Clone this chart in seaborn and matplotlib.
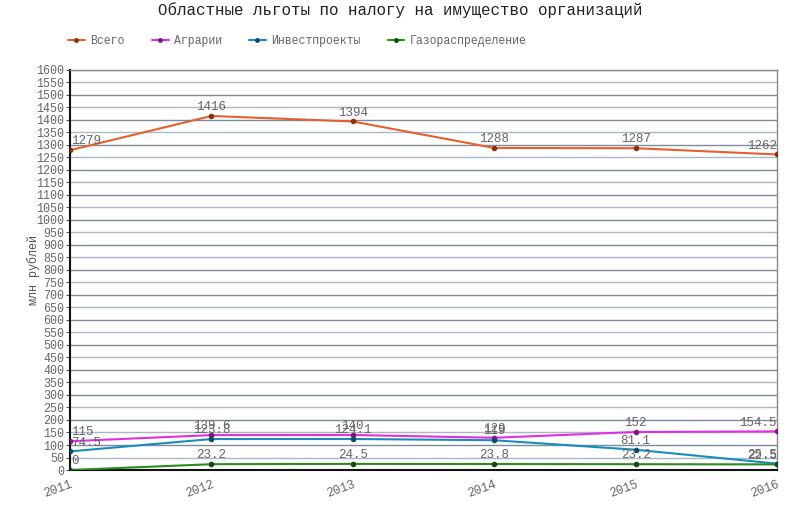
import matplotlib
matplotlib.use("Agg")
import matplotlib.pyplot as plt
import seaborn as sns
import pandas as pd
import numpy as np
from matplotlib.lines import Line2D

years = [2011, 2012, 2013, 2014, 2015, 2016]
series_names = ["Всего", "Аграрии", "Инвестпроекты", "Газораспределение"]
vsego = [1279, 1416, 1394, 1288, 1287, 1262]
agrarii = [115, 139.6, 140, 129, 152, 154.5]
invest = [74.5, 123.8, 124.1, 119, 81.1, 25.5]
gaz = [0, 23.2, 24.5, 23.8, 23.2, 22.5]
colors = ["#e5602e", "#e22ee2", "#1a8cbc", "#2a8a1e"]
edge_colors = ["#8a3010", "#7a1a7a", "#104a66", "#144a0e"]
title = "Областные льготы по налогу на имущество организаций"
ylabel = "млн рублей"

sns.set_theme(style="white")
plt.rcParams['font.family'] = ['Liberation Mono', 'DejaVu Sans Mono']

rows = []
for name, vals in zip(series_names, [vsego, agrarii, invest, gaz]):
    for y, v in zip(years, vals):
        rows.append({"year": y, "value": v, "series": name})
df = pd.DataFrame(rows)

fig = plt.figure(figsize=(8, 5.3), dpi=100)
ax = fig.add_axes([0.0875, 0.1132, 0.8838, 0.7548])

# gridlines
for v in range(50, 1601, 50):
    ax.axhline(v, color="#7d8b9a" if v % 100 == 0 else "#a9b7c7", lw=1.0, zorder=0)

sns.lineplot(data=df, x="year", y="value", hue="series", hue_order=series_names,
             palette=colors, marker="o", markersize=3.2, linewidth=1.5,
             markeredgewidth=0.8, ax=ax, legend=False, zorder=3)
for line, ec in zip(ax.lines[-4:], edge_colors):
    line.set_markeredgecolor(ec)
    line.set_markerfacecolor(ec)

for name, vals in zip(series_names, [vsego, agrarii, invest, gaz]):
    for i, (y, v) in enumerate(zip(years, vals)):
        lbl = f"{v:g}"
        if i == 0:
            ha, dx = "left", 1
        elif i == len(years) - 1:
            ha, dx = "right", 0
        else:
            ha, dx = "center", 0
        ax.annotate(lbl, (y, v), xytext=(dx, 2), textcoords="offset points",
                    ha=ha, va="bottom", fontsize=9, color="#666666", zorder=5,
                    annotation_clip=False)

ax.set_xlim(2011, 2016)
ax.set_ylim(0, 1600)
ax.set_yticks(range(0, 1601, 50))
ax.set_xticks(years)
ax.set_xticklabels([str(y) for y in years], rotation=20, ha="right",
                   rotation_mode="anchor")
ax.tick_params(axis="y", which="major", length=3, width=0.8, color="#555555",
               labelsize=8.4, labelcolor="#666666", pad=1, left=True)
ax.tick_params(axis="x", length=0, labelsize=8.8, labelcolor="#666666", pad=6)
ax.set_xlabel("")
ax.set_ylabel(ylabel, fontsize=8.5, color="#555555")
ax.yaxis.set_label_coords(-0.043, 0.5)

for side in ["top", "right"]:
    ax.spines[side].set_color("#888888")
    ax.spines[side].set_linewidth(1.0)
for side in ["left", "bottom"]:
    ax.spines[side].set_color("#111111")
    ax.spines[side].set_linewidth(1.5)
ax.set_facecolor("white")

fig.text(0.5, 0.981, title, ha="center", va="center", fontsize=11.4, color="#222222")

handles = [Line2D([0], [0], color=c, lw=1.5, marker="o", markersize=2.5,
                  markeredgecolor=ec, markerfacecolor=ec)
           for c, ec in zip(colors, edge_colors)]
leg = fig.legend(handles, series_names, loc="center left", bbox_to_anchor=(0.085, 0.9226),
                 ncol=4, frameon=False, fontsize=8.3, handlelength=1.47,
                 handletextpad=0.45, columnspacing=2.35, borderpad=0,
                 borderaxespad=0)
for t in leg.get_texts():
    t.set_color("#666666")

fig.savefig("out.png", dpi=100, facecolor="white")
